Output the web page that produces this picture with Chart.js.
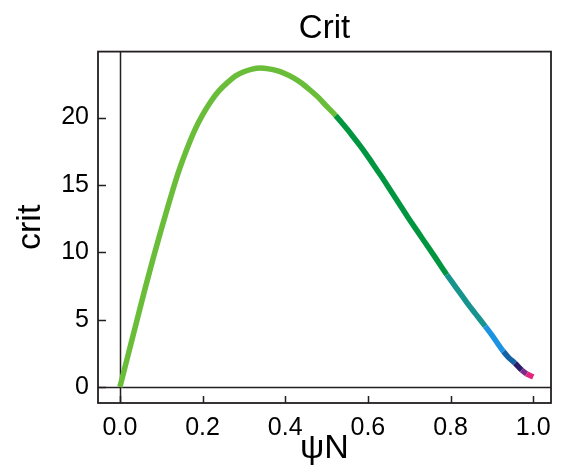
<!DOCTYPE html>
<html>
<head>
<meta charset="utf-8">
<script src="https://cdn.jsdelivr.net/npm/chart.js@4/dist/chart.umd.min.js"></script>
<style>
  html, body { margin: 0; padding: 0; background: #fff; }
  #wrap { width: 561px; height: 466px; }
</style>
</head>
<body>
<div id="wrap"><canvas id="myChart"></canvas></div>
<script>
// values
let psiN = [0.000, 0.020, 0.040, 0.060, 0.080, 0.100, 0.120, 0.140, 0.160, 0.180,
            0.200, 0.220, 0.240, 0.260, 0.280, 0.300, 0.320, 0.340, 0.360, 0.380,
            0.400, 0.420, 0.440, 0.460, 0.480, 0.500, 0.522, 0.540, 0.560, 0.580,
            0.600, 0.620, 0.640, 0.660, 0.680, 0.700, 0.720, 0.740, 0.760, 0.791,
            0.800, 0.820, 0.840, 0.860, 0.884, 0.900, 0.928, 0.940, 0.956, 0.972,
            0.984, 1.000];
let crit = [0.00, 2.40, 4.80, 7.20, 9.50, 11.70, 13.80, 15.80, 17.50, 19.00,
            20.20, 21.20, 22.00, 22.60, 23.10, 23.40, 23.60, 23.68, 23.62, 23.48,
            23.25, 22.95, 22.55, 22.05, 21.50, 20.85, 20.15, 19.50, 18.75, 17.95,
            17.10, 16.20, 15.30, 14.35, 13.40, 12.45, 11.55, 10.65, 9.75, 8.33,
            7.95, 7.10, 6.25, 5.45, 4.50, 3.85, 2.63, 2.20, 1.76, 1.26,
            0.97, 0.75];

// colour bands along psiN (start of each band)
let bandStart  = [0.0, 0.522, 0.791, 0.884, 0.928, 0.956, 0.972, 0.984];
let bandColors = ["#69bd38", "#00953f", "#16948d", "#1b93e0", "#1462a6", "#2c1c6c", "#7c2a88", "#e4237c"];

let xTicks = [0.0, 0.2, 0.4, 0.6, 0.8, 1.0];
let yTicks = [0, 5, 10, 15, 20];

let ink = "#231f20";
let fontFam = "'Liberation Sans', Arial, sans-serif";

function bandColor(x) {
    let c = bandColors[0];
    for (let i = 0; i < bandStart.length; i++) {
        if (x >= bandStart[i] - 1e-9) c = bandColors[i];
    }
    return c;
}

let points = psiN.map((x, i) => ({ x: x, y: crit[i] }));

// frame, inward ticks and zero lines
const framePlugin = {
    id: "frame",
    beforeDatasetsDraw(chart) {
        const { ctx, chartArea: a, scales: { x, y } } = chart;
        ctx.save();
        ctx.strokeStyle = ink;
        ctx.lineWidth = 1.5;
        let x0 = Math.round(x.getPixelForValue(0)) + 0.5;
        let y0 = Math.round(y.getPixelForValue(0)) + 0.5;
        ctx.beginPath();
        ctx.moveTo(x0, a.top); ctx.lineTo(x0, a.bottom);
        ctx.moveTo(a.left, y0); ctx.lineTo(a.right, y0);
        ctx.stroke();
        ctx.restore();
    },
    afterDraw(chart) {
        const { ctx, chartArea: a, scales: { x, y } } = chart;
        ctx.save();
        ctx.strokeStyle = ink;
        ctx.lineWidth = 1.8;
        ctx.strokeRect(a.left, a.top, a.right - a.left, a.bottom - a.top);
        ctx.lineWidth = 1.5;
        ctx.beginPath();
        xTicks.forEach(v => {
            let px = Math.round(x.getPixelForValue(v)) + 0.5;
            ctx.moveTo(px, a.bottom); ctx.lineTo(px, a.bottom - 7);
        });
        yTicks.forEach(v => {
            let py = Math.round(y.getPixelForValue(v)) + 0.5;
            ctx.moveTo(a.left, py); ctx.lineTo(a.left + 8, py);
        });
        ctx.stroke();
        ctx.restore();
    }
};

const ctx = document.getElementById("myChart").getContext("2d");
const myChart = new Chart(ctx, {
    type: "line",
    data: {
        datasets: [{
            data: points,
            borderColor: bandColors[0],
            borderWidth: 5.5,
            borderCapStyle: "butt",
            pointRadius: 0,
            cubicInterpolationMode: "monotone",
            segment: {
                borderColor: c => bandColor(c.p0.parsed.x)
            }
        }]
    },
    options: {
        responsive: true,
        maintainAspectRatio: false,
        animation: false,
        layout: { padding: { top: 0, right: 8, bottom: 0, left: 0 } },
        plugins: {
            legend: { display: false },
            tooltip: { enabled: false },
            title: {
                display: true,
                fullSize: false,
                text: "Crit",
                color: "#000",
                font: { family: fontFam, size: 33, weight: "normal", lineHeight: 1.2 },
                padding: { top: 9, bottom: 3 }
            }
        },
        scales: {
            x: {
                type: "linear",
                min: -0.053,
                max: 1.043,
                afterBuildTicks: s => { s.ticks = xTicks.map(v => ({ value: v })); },
                afterFit: s => { s.height = 63; },
                grid: { display: false, drawTicks: false },
                border: { display: false },
                ticks: {
                    color: "#000",
                    padding: 10,
                    maxRotation: 0,
                    font: { family: fontFam, size: 25 },
                    callback: v => v.toFixed(1)
                },
                title: {
                    display: true,
                    text: "ψN",
                    color: "#000",
                    font: { family: fontFam, size: 34, lineHeight: 1 },
                    padding: { top: 0, bottom: 0 }
                }
            },
            y: {
                type: "linear",
                min: -1.19,
                max: 24.9,
                afterBuildTicks: s => { s.ticks = yTicks.map(v => ({ value: v })); },
                afterFit: s => { s.width = 98; },
                grid: { display: false, drawTicks: false },
                border: { display: false },
                ticks: {
                    color: "#000",
                    padding: 9,
                    font: { family: fontFam, size: 25 },
                    callback: v => String(v)
                },
                title: {
                    display: true,
                    text: "crit",
                    color: "#000",
                    font: { family: fontFam, size: 34, lineHeight: 1.2 },
                    padding: { top: 10, bottom: 0 }
                }
            }
        }
    },
    plugins: [framePlugin]
});
</script>
</body>
</html>
